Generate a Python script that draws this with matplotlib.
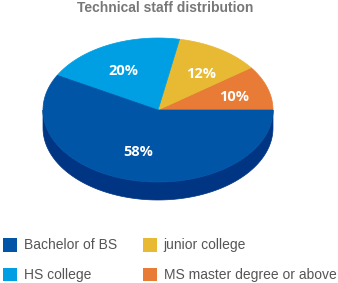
import numpy as np
import matplotlib.pyplot as plt
from matplotlib.patches import Polygon, Rectangle

# slices, counter-clockwise starting at 3 o'clock
labels = ["MS master degree or above", "junior college", "HS college", "Bachelor of BS"]
shares = [10, 12, 20, 58]
colors = ["#e87b35", "#e8b932", "#009fe3", "#0055a6"]
side_colors = ["#b85a22", "#b88d1c", "#0077b0", "#003584"]

legend_order = ["Bachelor of BS", "junior college", "HS college", "MS master degree or above"]

W, H = 338, 283
cx, cy = 158, 110      # top face centre (pixels)
rx, ry = 115, 72
depth = 18

fig = plt.figure(figsize=(W / 100, H / 100), dpi=100)
ax = fig.add_axes([0, 0, 1, 1])
ax.set_xlim(0, W)
ax.set_ylim(H, 0)
ax.axis("off")

def pt(a, dy=0):
	# angle in degrees -> pixel point on ellipse
	t = np.radians(a)
	return cx + rx * np.cos(t), cy - ry * np.sin(t) + dy

edges = np.concatenate([[0], np.cumsum(shares)]) / sum(shares) * 360

# side walls (front half only, 180..360 deg)
for i in range(len(shares)):
	a0, a1 = max(edges[i], 180), edges[i + 1]
	if a1 <= a0:
		continue
	aa = np.linspace(a0, a1, 100)
	top = [pt(a) for a in aa]
	bot = [pt(a, depth) for a in aa[::-1]]
	ax.add_patch(Polygon(top + bot, closed=True, fc=side_colors[i], ec=side_colors[i], lw=0.5))

# top faces
for i in range(len(shares)):
	aa = np.linspace(edges[i], edges[i + 1], 200)
	poly = [(cx, cy)] + [pt(a) for a in aa]
	ax.add_patch(Polygon(poly, closed=True, fc=colors[i], ec=colors[i], lw=0.5))

# percentage labels
for i, s in enumerate(shares):
	mid = np.radians((edges[i] + edges[i + 1]) / 2)
	x = cx + 0.7 * rx * np.cos(mid)
	y = cy - 0.6 * ry * np.sin(mid)
	ax.text(x, y, f"{s}%", color="white", fontsize=10.5, fontweight="bold",
		family="Open Sans", ha="center", va="center")

ax.text(165, 0.5, "Technical staff distribution", color="#777777", fontsize=10,
	fontweight="bold", family="Liberation Sans", ha="center", va="top")

# legend, two columns
for k, name in enumerate(legend_order):
	col, row = k % 2, k // 2
	x0 = 3 + col * 140
	y0 = 238 + row * 29.5
	c = colors[labels.index(name)]
	ax.add_patch(Rectangle((x0, y0), 13.5, 13.5, fc=c, ec="none"))
	ax.text(x0 + 20.5, y0 + 7, name, color="#555555", fontsize=10,
		family="Liberation Sans", ha="left", va="center")

fig.savefig("out.png", dpi=100)
